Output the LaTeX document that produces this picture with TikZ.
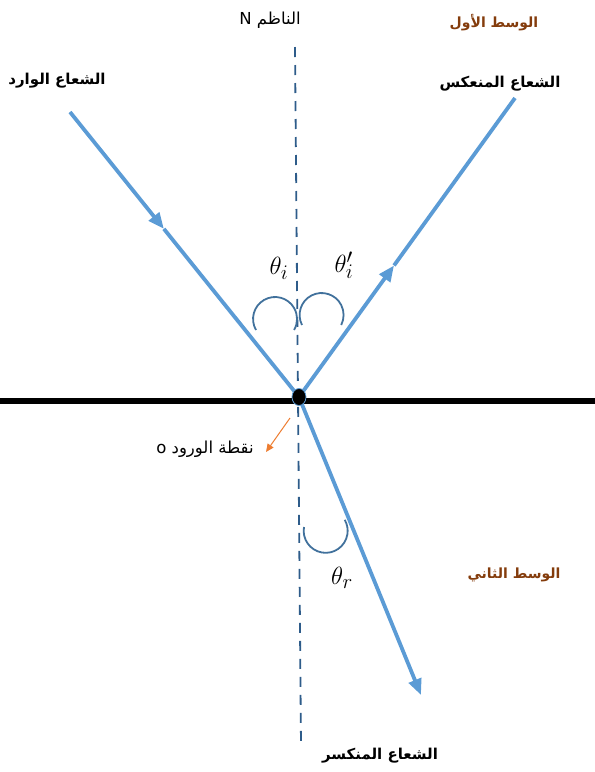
\documentclass[tikz,border=0pt]{standalone}
\usepackage{fontspec}
\setmainfont{Liberation Sans}
\newfontfamily\arabicfont[Script=Arabic]{DejaVu Sans}
\TeXXeTstate=1
\usetikzlibrary{arrows.meta,calc,shapes.geometric}
\definecolor{rayc}{HTML}{5B9BD5}
\definecolor{normalc}{HTML}{2E5C8A}
\definecolor{arcc}{HTML}{41719C}
\definecolor{brownc}{HTML}{843C0C}
\definecolor{orangec}{HTML}{ED7D31}
\tikzset{
  ray/.style={draw=rayc, line width=3.8pt},
  raytip/.style={-{Triangle[length=16pt,width=13pt]}},
  anglearc/.style={draw=arcc, line width=1.8pt},
  arlabel/.style={font=\arabicfont\bfseries\fontsize{15}{17}\selectfont, inner sep=0pt},
  arplain/.style={font=\arabicfont\fontsize{16.5}{19}\selectfont, inner sep=0pt},
  mediumlabel/.style={font=\arabicfont\bfseries\fontsize{14}{16}\selectfont, inner sep=0pt, text=brownc},
  anglelabel/.style={font=\fontsize{28}{32}\selectfont, inner sep=0pt}
}
\begin{document}
\begin{tikzpicture}[x=1pt,y=-1pt]
\useasboundingbox (0,0) rectangle (595,772);
% coordinates
\coordinate (O) at (299,397);
\coordinate (I) at (70,112);
\coordinate (R) at (515,98);
\coordinate (T) at (421,695);
\coordinate (N1) at (295,47);
\coordinate (N2) at (301,745);
\coordinate (L1) at (0,400.5);
\coordinate (L2) at (595,400.5);
\coordinate (Im) at ($(I)!0.41!(O)$);
\coordinate (Rm) at ($(O)!0.44!(R)$);
% normal
\draw[normalc, line width=1.8pt, dash pattern=on 10pt off 8pt] (N1) -- (N2);
% surface
\draw[black, line width=6pt] (L1) -- (L2);
% rays
\draw[ray, raytip] (I) -- (Im);
\draw[ray] (Im) -- (O);
\draw[ray, raytip] (O) -- (Rm);
\draw[ray] (Rm) -- (R);
\draw[ray, raytip] (O) -- (T);
% point
\node[ellipse, fill=black, draw=rayc, line width=0.8pt, minimum width=14pt, minimum height=17pt, inner sep=0pt] (Odot) at (O) {};
% angle arcs
\draw[anglearc] (256,330) arc[start angle=150, end angle=390, radius=22];
\draw[anglearc] (302,325) arc[start angle=153, end angle=387, radius=22];
\draw[anglearc] (304,527) arc[start angle=190, end angle=-30, radius=22];
% angle labels
\node[anglelabel] (thi) at (279,268) {$\theta_i$};
\node[anglelabel] (thip) at (344,265) {$\theta_i'$};
\node[anglelabel] (thr) at (342,578) {$\theta_r$};
% texts
\node[arplain] (normallbl) at (270,20) {\beginR الناظم N\endR};
\node[mediumlabel] (med1) at (494,23) {\beginR الوسط الأول\endR};
\node[arlabel] (reflbl) at (500,84) {\beginR الشعاع المنعكس\endR};
\node[arlabel] (inclbl) at (57,81) {\beginR الشعاع الوارد\endR};
\node[arplain] (olbl) at (205,449) {\beginR نقطة الورود o\endR};
\node[mediumlabel] (med2) at (514,575) {\beginR الوسط الثاني\endR};
\node[arlabel] (refrlbl) at (380,756) {\beginR الشعاع المنكسر\endR};
% orange pointer
\coordinate (P1) at (290,418);
\coordinate (P2) at (266,452);
\draw[orangec, line width=1pt, -{Triangle[length=8pt,width=7pt]}] (P1) -- (P2);
\end{tikzpicture}
\end{document}
